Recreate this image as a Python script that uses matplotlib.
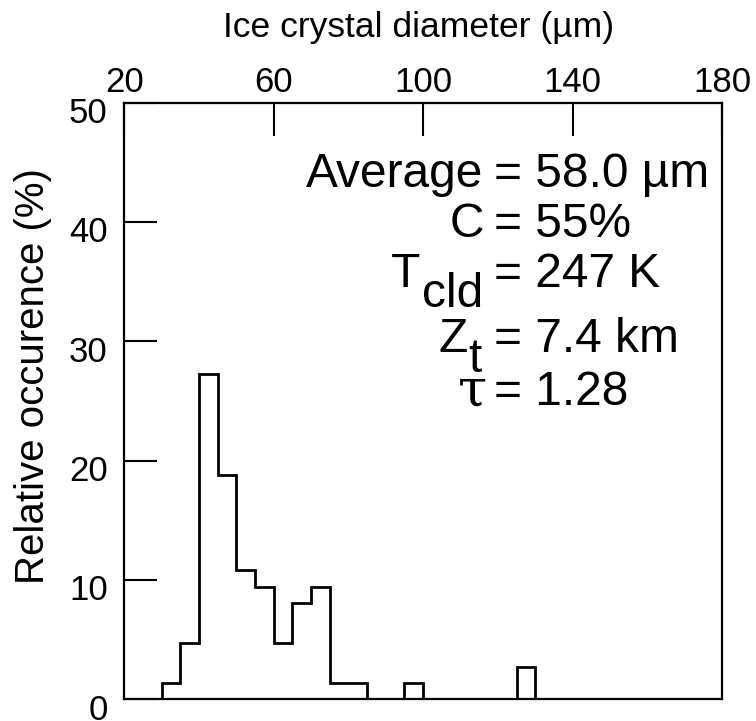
import matplotlib
matplotlib.use("Agg")
import matplotlib.pyplot as plt
from matplotlib.transforms import ScaledTranslation

plt.rcParams["font.family"] = ["Liberation Sans", "DejaVu Sans"]

# histogram of ice crystal diameters, 5 um bins
bin_edges = [30, 35, 40, 45, 50, 55, 60, 65, 70, 75, 80, 85, 90, 95,
             100, 105, 110, 115, 120, 125, 130]
occurrence = [1.4, 4.7, 27.3, 18.8, 10.8, 9.4, 4.7, 8.1, 9.4, 1.4,
              1.4, 0.0, 0.0, 1.4, 0.0, 0.0, 0.0, 0.0, 0.0, 2.7]

x_ticks = [20, 60, 100, 140, 180]
y_ticks = [0, 10, 20, 30, 40, 50]

# (label, subscript, value text)
stats = [
    ("Average", "", "= 58.0 µm"),
    ("C", "", "= 55%"),
    ("T", "cld", "= 247 K"),
    ("Z", "t", "= 7.4 km"),
    ("τ", "", "= 1.28"),
]

W, H = 756, 721
fig = plt.figure(figsize=(W / 100, H / 100), dpi=100)


def px(x, y):
    return x / W, 1 - y / H


left, right, top, bottom = 124.3, 722.0, 102.6, 699.3
ax = fig.add_axes([left / W, 1 - bottom / H, (right - left) / W, (bottom - top) / H])

ax.stairs(occurrence, bin_edges, color="black", linewidth=2.0, baseline=0)

ax.set_xlim(20, 180)
ax.set_ylim(0, 50)
ax.set_xticks(x_ticks)
ax.set_yticks(y_ticks)
ax.xaxis.tick_top()
ax.tick_params(axis="x", direction="in", length=23.8, width=1.5, pad=2.4,
               labelsize=25, top=True, bottom=False)
ax.tick_params(axis="y", direction="in", length=23.8, width=1.5, pad=12.0,
               labelsize=25, left=True, right=False)
for sp in ax.spines.values():
    sp.set_linewidth(1.6)

shift = ScaledTranslation(0, -0.075, fig.dpi_scale_trans)
for lab in ax.get_yticklabels():
    lab.set_transform(lab.get_transform() + shift)

fig.text(*px(419, 37), "Ice crystal diameter (µm)", fontsize=25.5,
         ha="center", va="baseline")
fig.text(*px(33, 376), "Relative occurence (%)", fontsize=29,
         rotation=90, ha="center", va="center")

# annotation block, aligned on the "=" signs
baselines = [186.7, 236.7, 286.7, 351.7, 405.0]
label_right = [483, 484, 483, 482, 487]
fs = 34.5
for (name, sub, val), yb, xr in zip(stats, baselines, label_right):
    fig.text(*px(494, yb), val, fontsize=fs, ha="left", va="baseline")
    if sub:
        fig.text(*px(xr, yb + 20), sub, fontsize=fs, ha="right", va="baseline")
        x0 = 391 if name == "T" else 438
        fig.text(*px(x0, yb), name, fontsize=fs, ha="left", va="baseline")
    elif name == "τ":
        fig.text(*px(xr, yb), name, fontsize=38, ha="right", va="baseline",
                 family=["DejaVu Serif"])
    else:
        fig.text(*px(xr, yb), name, fontsize=fs, ha="right", va="baseline")

fig.savefig("out.png", dpi=100)
